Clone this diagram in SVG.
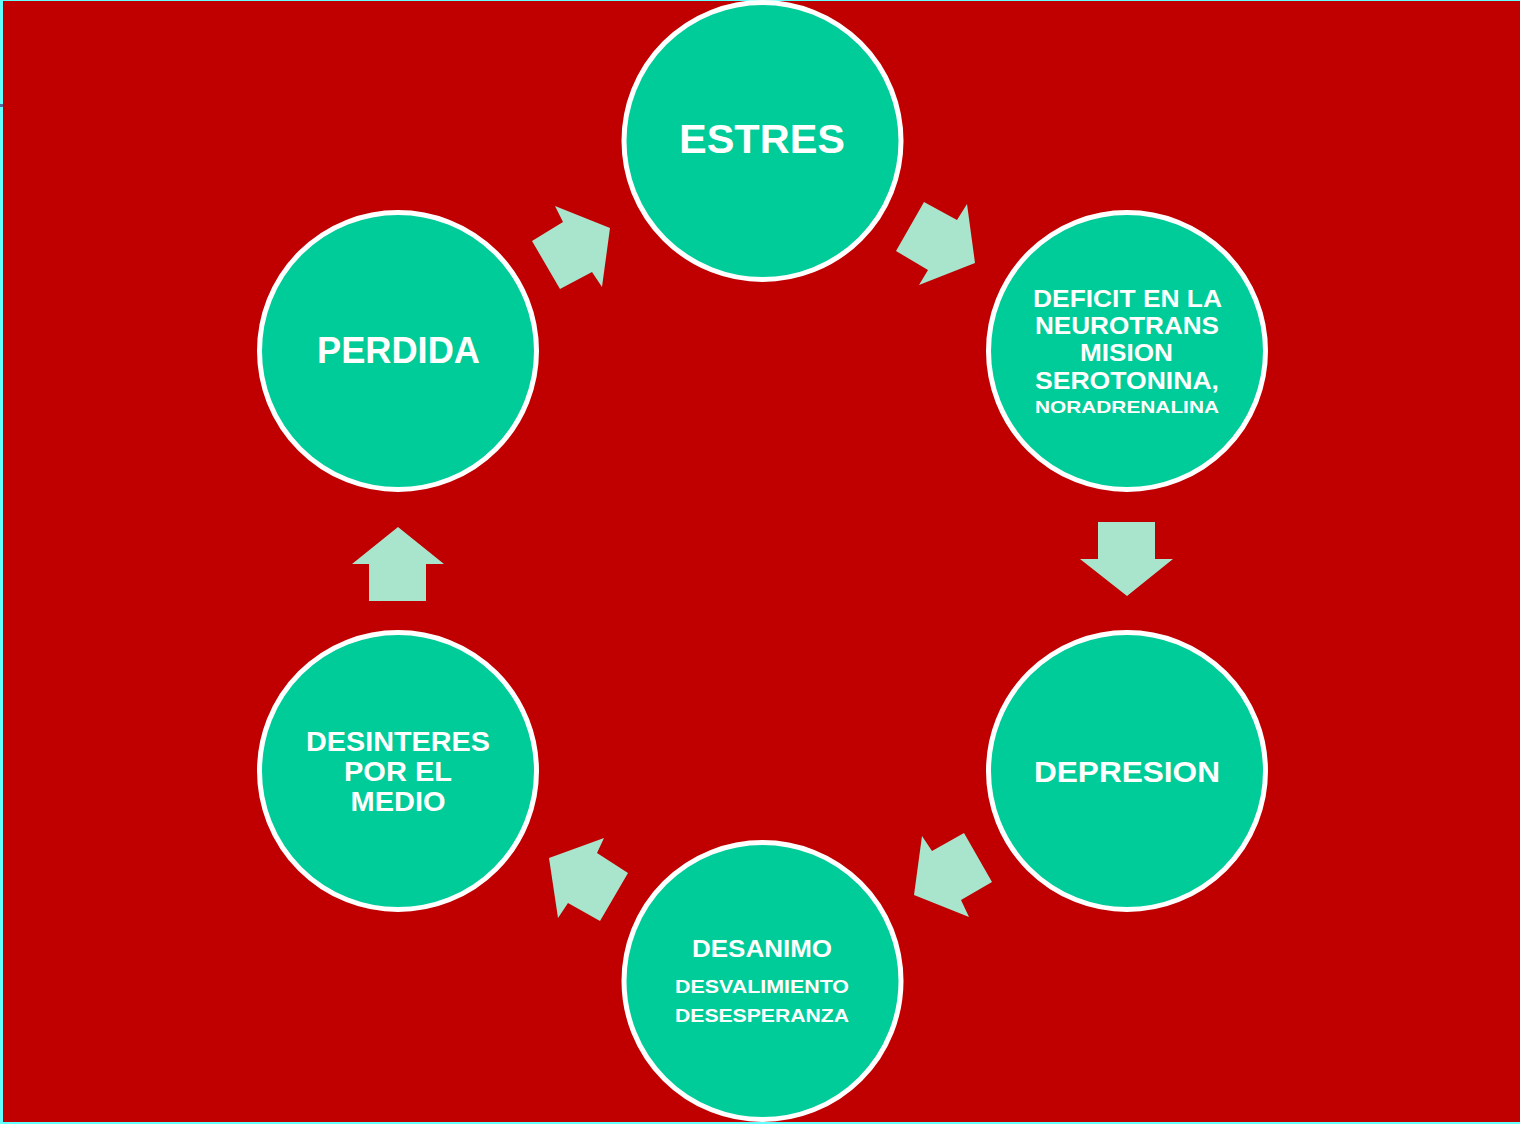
<svg xmlns="http://www.w3.org/2000/svg" width="1520" height="1124" viewBox="0 0 1520 1124">
<style>
.node circle{fill:#00CC99;stroke:#FFFFFF;stroke-width:5}
.node text{fill:#FFFFFF;font-family:"Liberation Sans",Arial,sans-serif;font-weight:bold;text-anchor:middle}
.arrow{fill:#A9E4CC}
</style>
<rect x="0" y="0" width="1520" height="1124" fill="#66FFFF"/>
<rect x="3" y="1" width="1517" height="1121" fill="#C00000"/>
<rect x="0" y="104" width="3" height="3" fill="#5A6AA0"/>
<g id="connectors">
<polygon class="arrow" points="555,206 610,228 602,287 592,272 560,289 532,241 563,222"/>
<polygon class="arrow" points="924,202 957,220 967,204 975,263 919,285 928,270 896,251"/>
<polygon class="arrow" points="1098,522 1155,522 1155,559 1173,559 1127,596 1080,559 1098,559"/>
<polygon class="arrow" points="964,833 992,882 961,900 969,917 914,895 922,836 932,851"/>
<polygon class="arrow" points="604,838 597,853 628,873 600,921 568,903 558,918 549,858"/>
<polygon class="arrow" points="398,527 444,564 426,564 426,601 369,601 369,564 352,564"/>
</g>
<g id="estres" class="node">
<circle cx="762.5" cy="141" r="138.5"/>
<text x="762" y="153" font-size="41" textLength="166" lengthAdjust="spacingAndGlyphs">ESTRES</text>
</g>
<g id="deficit" class="node">
<circle cx="1127" cy="351" r="138.5"/>
<text x="1127.5" y="307" font-size="24" textLength="189" lengthAdjust="spacingAndGlyphs">DEFICIT EN LA</text>
<text x="1127" y="334" font-size="24" textLength="184" lengthAdjust="spacingAndGlyphs">NEUROTRANS</text>
<text x="1126.5" y="361" font-size="24" textLength="93" lengthAdjust="spacingAndGlyphs">MISION</text>
<text x="1127" y="389" font-size="24" textLength="184" lengthAdjust="spacingAndGlyphs">SEROTONINA,</text>
<text x="1127" y="412.5" font-size="16.5" textLength="184" lengthAdjust="spacingAndGlyphs">NORADRENALINA</text>
</g>
<g id="depresion" class="node">
<circle cx="1127" cy="771" r="138.5"/>
<text x="1127" y="782" font-size="30" textLength="186" lengthAdjust="spacingAndGlyphs">DEPRESION</text>
</g>
<g id="desanimo" class="node">
<circle cx="762.5" cy="981" r="138.5"/>
<text x="762" y="957" font-size="23" textLength="140" lengthAdjust="spacingAndGlyphs">DESANIMO</text>
<text x="762" y="993" font-size="19" textLength="174" lengthAdjust="spacingAndGlyphs">DESVALIMIENTO</text>
<text x="762" y="1022" font-size="19" textLength="174" lengthAdjust="spacingAndGlyphs">DESESPERANZA</text>
</g>
<g id="desinteres" class="node">
<circle cx="398" cy="771" r="138.5"/>
<text x="398" y="751" font-size="27" textLength="184" lengthAdjust="spacingAndGlyphs">DESINTERES</text>
<text x="398" y="781" font-size="27" textLength="108" lengthAdjust="spacingAndGlyphs">POR EL</text>
<text x="398" y="811" font-size="27" textLength="95" lengthAdjust="spacingAndGlyphs">MEDIO</text>
</g>
<g id="perdida" class="node">
<circle cx="398" cy="351" r="138.5"/>
<text x="398.5" y="363" font-size="37" textLength="163" lengthAdjust="spacingAndGlyphs">PERDIDA</text>
</g>
</svg>
